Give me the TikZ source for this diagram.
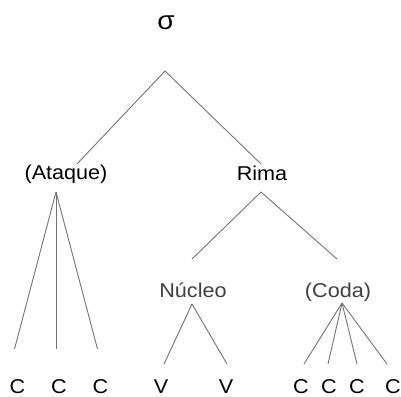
\documentclass[tikz,border=0pt]{standalone}
\usepackage{fontspec}
\setmainfont{Liberation Sans}[FakeStretch=1.08]
\usetikzlibrary{
    calc,
}

\begin{document}
\begin{tikzpicture}[
        x=1pt, y=-1pt,
        label/.style={anchor=base, inner sep=0pt, font=\fontsize{20}{24}\selectfont},
        softlabel/.style={label, text=black!75},
        branch/.style={draw=black!55, line width=0.9pt},
        ]
        \useasboundingbox (0,0) rectangle (401,396);
        % syllable levels
        \node[label, font=\fontsize{26}{30}\selectfont] (sigma) at (166,30) {σ};
        \node[label] (ataque) at (66,179)  {(Ataque)};
        \node[label] (rima)   at (262,180) {Rima};
        \node[softlabel] (nucleo) at (193,297) {Núcleo};
        \node[softlabel] (coda)   at (338,297) {(Coda)};
        % segments
        \node[label] (c1)  at (17.5,393)  {C};
        \node[label] (c2)  at (59,393)    {C};
        \node[label] (c3)  at (100.5,393) {C};
        \node[label] (v1)  at (161,393)   {V};
        \node[label] (v2)  at (226,393)   {V};
        \node[label] (cc1) at (301,393)   {C};
        \node[label] (cc2) at (329,393)   {C};
        \node[label] (cc3) at (357,393)   {C};
        \node[label] (cc4) at (393,393)   {C};
        % feet of the branches
        \coordinate (sigma-foot)  at ($(sigma.base)+(-1,41)$);
        \coordinate (ataque-foot) at ($(ataque.base)+(-10,13)$);
        \coordinate (rima-foot)   at ($(rima.base)+(-1,12)$);
        \coordinate (nucleo-foot) at ($(nucleo.base)+(-1,7)$);
        \coordinate (coda-foot)   at ($(coda.base)+(4,6)$);
        \draw[branch] (sigma-foot) -- ($(ataque.base)+(11,-15)$);
        \draw[branch] (sigma-foot) -- ($(rima.base)+(-1,-16)$);
        \foreach \kid in {c1, c2, c3}
            \draw[branch] (ataque-foot) -- ($(\kid.base)+(-3,-44)$);
        \foreach \kid in {nucleo, coda}
            \draw[branch] (rima-foot) -- ($(\kid.base)+(-1,-38)$);
        \foreach \kid/\dx in {v1/3, v2/1}
            \draw[branch] (nucleo-foot) -- ($(\kid.base)+(\dx,-29)$);
        \foreach \kid/\dx in {cc1/3, cc2/-1, cc3/0, cc4/-6}
            \draw[branch] (coda-foot) -- ($(\kid.base)+(\dx,-29)$);
    \end{tikzpicture}
\end{document}
